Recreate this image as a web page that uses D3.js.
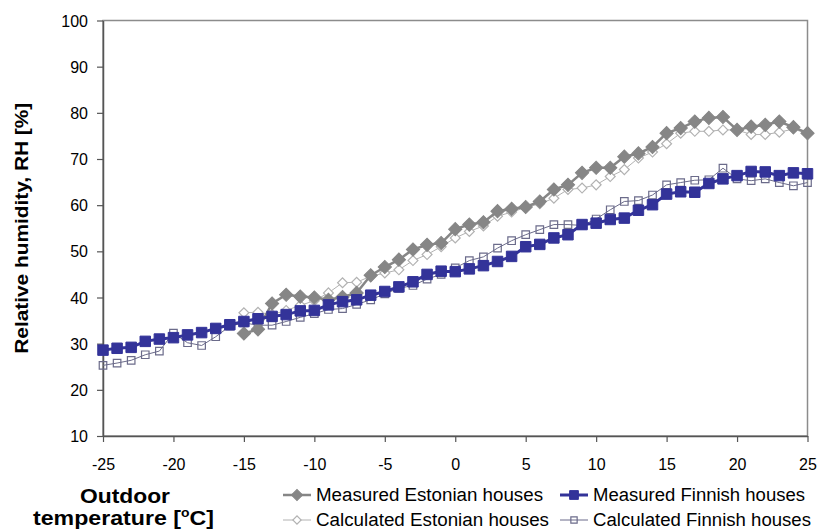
<!DOCTYPE html>
<html>
<head>
<meta charset="utf-8">
<script src="https://cdn.jsdelivr.net/npm/d3@7"></script>
<style>
  body { margin: 0; background: #fff; }
  text { font-family: "Liberation Sans", Arial, sans-serif; }
</style>
</head>
<body>
<div id="chartContainer"></div>
<script>

// outdoor temperature, degC
var temps = d3.range(-25, 26);
var xTicks = [-25, -20, -15, -10, -5, 0, 5, 10, 15, 20, 25];
var yTicks = [10, 20, 30, 40, 50, 60, 70, 80, 90, 100];

// relative humidity, % (Estonian series start at -15)
var measuredEst = [32.2, 33.1, 38.7, 40.6, 40.2, 40.0, 39.5, 40.1, 41.0, 44.8,
    46.6, 48.2, 50.4, 51.4, 51.8, 54.8, 55.8, 56.3, 58.7, 59.2,
    59.6, 60.8, 63.4, 64.4, 67.0, 68.1, 68.1, 70.5, 71.2, 72.6,
    75.6, 76.7, 78.1, 78.9, 79.1, 76.3, 77.0, 77.4, 78.1, 76.9, 75.6];
var calculatedEst = [36.7, 36.8, 36.3, 37.2, 38.3, 39.3, 41.0, 43.2, 43.3, 44.6,
    45.3, 46.0, 48.0, 49.3, 51.0, 52.9, 54.3, 55.5, 57.6, 58.5,
    59.5, 60.3, 61.5, 63.4, 63.7, 64.4, 66.2, 67.7, 70.2, 71.5,
    73.3, 75.6, 76.0, 76.0, 76.3, 76.3, 75.3, 75.3, 75.8, 76.5, 75.5];
var measuredFin = [28.6, 29.0, 29.2, 30.5, 31.0, 31.3, 31.9, 32.4, 33.3, 34.1,
    34.8, 35.4, 35.9, 36.3, 37.1, 37.2, 38.4, 39.1, 39.5, 40.5,
    41.3, 42.3, 43.4, 45.0, 45.7, 45.6, 46.2, 46.9, 47.8, 48.9,
    51.0, 51.5, 52.9, 53.6, 55.8, 56.1, 56.9, 57.2, 58.9, 60.1,
    62.4, 62.9, 62.8, 64.7, 65.7, 66.4, 67.3, 67.2, 66.4, 67.0, 66.8];
var calculatedFin = [25.3, 25.8, 26.4, 27.6, 28.4, 32.3, 30.2, 29.6, 31.5, 33.8,
    34.5, 34.0, 34.0, 34.8, 35.7, 36.5, 37.4, 37.6, 38.5, 39.5,
    40.8, 42.0, 42.6, 44.0, 45.0, 46.4, 48.0, 48.8, 50.7, 52.3,
    53.6, 54.7, 55.8, 55.8, 55.6, 57.0, 59.0, 60.8, 61.0, 62.2,
    64.4, 64.9, 65.4, 65.5, 68.0, 65.7, 65.3, 65.7, 64.9, 64.2, 64.9];

var seriesNames = ["Measured Estonian houses", "Measured Finnish houses",
    "Calculated Estonian houses", "Calculated Finnish houses"];

function pairs(values) {
    var start = temps.length - values.length;
    return values.map(function(v, i) { return {t: temps[start + i], v: v}; });
}

// diamonds are squares turned 45 degrees, like the spreadsheet markers
var series = [
    {name: seriesNames[2], data: pairs(calculatedEst), color: "#b2b2b2", width: 1, shape: d3.symbolSquare2, rot: 45, size: 62, fill: "#fff", sw: 1.2},
    {name: seriesNames[3], data: pairs(calculatedFin), color: "#6b6b8a", width: 1, shape: d3.symbolSquare2, rot: 0, size: 72, fill: "none", sw: 1.2},
    {name: seriesNames[0], data: pairs(measuredEst), color: "#868686", width: 2.5, shape: d3.symbolSquare, rot: 45, size: 88, fill: "#868686", sw: 1},
    {name: seriesNames[1], data: pairs(measuredFin), color: "#333399", width: 3, shape: d3.symbolSquare, rot: 0, size: 110, fill: "#333399", sw: 1}
];

///set margins
var margin = {top: 20.5, right: 11.5, bottom: 95, left: 103};
var width = 819 - margin.left - margin.right;
var height = 531 - margin.top - margin.bottom;

var svg = d3.select("#chartContainer")
    .append("svg")
    .attr("width", 819)
    .attr("height", 531);

var g = svg.append("g")
    .attr("transform", "translate(" + margin.left + "," + margin.top + ")");

var x = d3.scaleLinear().domain([-25, 25]).range([0, width]);
var y = d3.scaleLinear().domain([10, 100]).range([height, 0]);

// plot area frame
g.append("rect")
    .attr("width", width)
    .attr("height", height)
    .attr("fill", "none")
    .attr("stroke", "#8c8c8c")
    .attr("stroke-width", 1.5);

// axes (plain hyphen for negatives)
var fmt = function(d) { return String(d); };
var xAxis = g.append("g")
    .attr("transform", "translate(0," + height + ")")
    .call(d3.axisBottom(x).tickValues(xTicks).tickFormat(fmt).tickSize(6).tickPadding(17).tickSizeOuter(0));
var yAxis = g.append("g")
    .call(d3.axisLeft(y).tickValues(yTicks).tickFormat(fmt).tickSize(6).tickPadding(9).tickSizeOuter(0));

[xAxis, yAxis].forEach(function(ax) {
    ax.select(".domain").attr("stroke", "#555").attr("stroke-width", 1.5);
    ax.selectAll(".tick line").attr("stroke", "#555").attr("stroke-width", 1.2);
    ax.selectAll(".tick text")
        .attr("fill", "#000")
        .style("font-size", "16px")
        .style("font-family", "'Liberation Sans', Arial, sans-serif");
});
yAxis.selectAll(".tick text").attr("dy", "0.35em");

var line = d3.line()
    .x(function(d) { return x(d.t); })
    .y(function(d) { return y(d.v); });

// lines and markers
series.forEach(function(s) {
    g.append("path")
        .datum(s.data)
        .attr("fill", "none")
        .attr("stroke", s.color)
        .attr("stroke-width", s.width)
        .attr("d", line);

    g.selectAll(null)
        .data(s.data)
        .enter().append("path")
        .attr("transform", function(d) { return "translate(" + x(d.t) + "," + y(d.v) + ") rotate(" + s.rot + ")"; })
        .attr("d", d3.symbol().type(s.shape).size(s.size))
        .attr("fill", s.fill)
        .attr("stroke", s.color)
        .attr("stroke-width", s.sw);
});

// axis titles
svg.append("text")
    .attr("transform", "translate(28," + (margin.top + height / 2) + ") rotate(-90)")
    .attr("text-anchor", "middle")
    .attr("textLength", 251)
    .attr("lengthAdjust", "spacingAndGlyphs")
    .style("font-size", "19px")
    .style("font-weight", "bold")
    .text("Relative humidity, RH [%]");

svg.append("text")
    .attr("x", 125).attr("y", 503)
    .attr("text-anchor", "middle")
    .attr("textLength", 90)
    .attr("lengthAdjust", "spacingAndGlyphs")
    .style("font-size", "20px")
    .style("font-weight", "bold")
    .text("Outdoor");
var t2 = svg.append("text")
    .attr("x", 33).attr("y", 525)
    .style("font-size", "20px")
    .style("font-weight", "bold");
t2.append("tspan").text("temperature [");
t2.append("tspan").attr("dy", -8).style("font-size", "12px").text("o");
t2.append("tspan").attr("dy", 8).text("C]");
// squeeze second line to the reference width
var bb = t2.node().getBBox();
t2.attr("transform", "translate(33,0) scale(" + (181 / bb.width) + ",1) translate(-33,0)");

// legend
var legendItems = [
    {x: 283, y: 495},
    {x: 560, y: 495},
    {x: 283, y: 520},
    {x: 560, y: 520}
];
var textWidths = {};
textWidths[seriesNames[0]] = 227;
textWidths[seriesNames[1]] = 212;
textWidths[seriesNames[2]] = 233;
textWidths[seriesNames[3]] = 218;

var legend = svg.append("g");
var legendOrder = [series[2], series[3], series[0], series[1]];
legendItems.forEach(function(item, i) {
    var s = legendOrder[i];
    var it = legend.append("g").attr("transform", "translate(" + item.x + "," + item.y + ")");
    it.append("line")
        .attr("x1", 0).attr("x2", 28)
        .attr("stroke", s.color)
        .attr("stroke-width", s.width);
    it.append("path")
        .attr("transform", "translate(14,0) rotate(" + s.rot + ")")
        .attr("d", d3.symbol().type(s.shape).size(s.size * 0.7))
        .attr("fill", s.fill)
        .attr("stroke", s.color)
        .attr("stroke-width", s.sw);
    it.append("text")
        .attr("x", 33)
        .attr("dy", "0.35em")
        .attr("textLength", textWidths[s.name])
        .attr("lengthAdjust", "spacingAndGlyphs")
        .style("font-size", "18px")
        .text(s.name);
});

</script>
</body>
</html>
